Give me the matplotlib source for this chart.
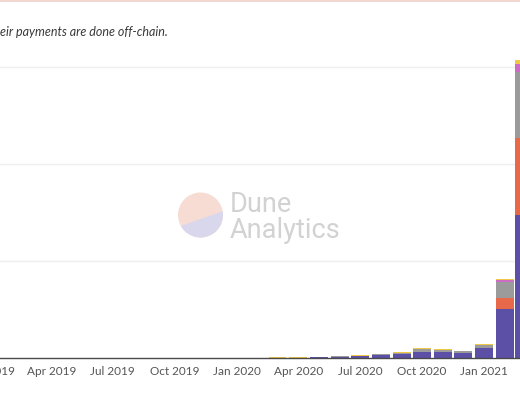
import matplotlib
matplotlib.use("Agg")
import matplotlib.pyplot as plt
import matplotlib.dates as mdates
from matplotlib.patches import Circle, Polygon, Rectangle
import numpy as np
import datetime as dt

# ---- data (monthly, values in gridline units) ----
months = ["2019-01", "2019-02", "2019-03", "2019-04", "2019-05", "2019-06",
          "2019-07", "2019-08", "2019-09", "2019-10", "2019-11", "2019-12",
          "2020-01", "2020-02", "2020-03", "2020-04", "2020-05", "2020-06",
          "2020-07", "2020-08", "2020-09", "2020-10", "2020-11", "2020-12",
          "2021-01", "2021-02", "2021-03"]
series_purple = [0, 0, 0, 0, 0, 0, 0, 0, 0, 0, 0, 0.002,
                 0.004, 0.003, 0.004, 0.003, 0.006, 0.012,
                 0.02, 0.03, 0.04, 0.067, 0.06, 0.05,
                 0.10, 0.51, 1.47]
series_orange = [0] * 25 + [0.11, 0.80]
series_gray = [0, 0, 0, 0, 0, 0, 0, 0, 0, 0, 0, 0,
               0, 0, 0, 0, 0.002, 0.004,
               0.004, 0.008, 0.012, 0.028, 0.02, 0.025,
               0.038, 0.16, 0.68]
series_pink = [0] * 25 + [0.02, 0.08]
series_yellow = [0, 0, 0, 0, 0, 0, 0, 0, 0, 0, 0, 0,
                 0, 0, 0.002, 0.006, 0, 0,
                 0.002, 0.002, 0.008, 0.006, 0.01, 0.002,
                 0.008, 0.01, 0.04]
caption = "their payments are done off-chain."

colors = ["#5b4fa6", "#e8694a", "#9b9b9b", "#cc6cc2", "#f0c846"]
series = [series_purple, series_orange, series_gray, series_pink, series_yellow]

dates = [dt.datetime.strptime(m, "%Y-%m") for m in months]
xnum = mdates.date2num(dates)

W, H = 520, 400
fig = plt.figure(figsize=(W / 100, H / 100), dpi=100)
fig.patch.set_facecolor("white")

# axes geometry in pixels (axes extends past the left edge: the view is cropped)
left_px = -60
base_px = 358
top_px = 50
unit_px = 97
ax = fig.add_axes([left_px / W, (H - base_px) / H, (W - left_px) / W,
                   (base_px - top_px) / H])
ax.set_facecolor("none")

x0 = mdates.date2num(dt.datetime(2020, 1, 1))
px_per_day = 0.675
ax.set_xlim(x0 - (237 - left_px) / px_per_day, x0 + (W - 237) / px_per_day)
ax.set_ylim(0, (base_px - top_px) / unit_px)

bottom = np.zeros(len(months))
for vals, c in zip(series, colors):
    v = np.array(vals, dtype=float)
    ax.bar(xnum, v, bottom=bottom, width=26.5, color=c, linewidth=0, zorder=3)
    bottom += v

ax.set_yticks([1, 2, 3])
ax.yaxis.grid(True, color="#efefef", linewidth=1, zorder=0)
ax.tick_params(axis="y", left=False, labelleft=False)
ax.xaxis.set_major_locator(mdates.MonthLocator(bymonth=[1, 4, 7, 10]))
ax.xaxis.set_major_formatter(mdates.DateFormatter("%b %Y"))
ax.tick_params(axis="x", length=0, pad=6, labelsize=8.5, labelcolor="#555555")
for lbl in ax.get_xticklabels():
    lbl.set_family("Lato")
for s in ["top", "left", "right"]:
    ax.spines[s].set_visible(False)
ax.spines["bottom"].set_color("#4a4a4a")
ax.spines["bottom"].set_linewidth(1)
ax.spines["bottom"].set_zorder(4)

# overlay in pixel coordinates for decorations
ov = fig.add_axes([0, 0, 1, 1], zorder=-1)
ov.set_xlim(0, W)
ov.set_ylim(H, 0)
ov.axis("off")
ov.add_patch(Rectangle((0, 0), W, 2, color="#f2d8d0", lw=0))
circ = Circle((200.5, 215), 22.5, color="#f7dcd4", lw=0)
ov.add_patch(circ)
low = Polygon([(175, 228), (226, 210), (226, 240), (175, 240)], closed=True,
              color="#d9d7ec", lw=0)
ov.add_patch(low)
low.set_clip_path(circ)
ov.text(230, 212, "Dune", fontsize=19.5, color="#d2d2d2", family="Roboto",
        ha="left", va="baseline")
ov.text(230, 238, "Analytics", fontsize=19.5, color="#d2d2d2", family="Roboto",
        ha="left", va="baseline")

fig.text(168 / W, 1 - 32 / H, caption, fontsize=9, style="italic",
         family="Lato", color="#3a3a3a", ha="right", va="center")

fig.savefig("out.png", dpi=100)
